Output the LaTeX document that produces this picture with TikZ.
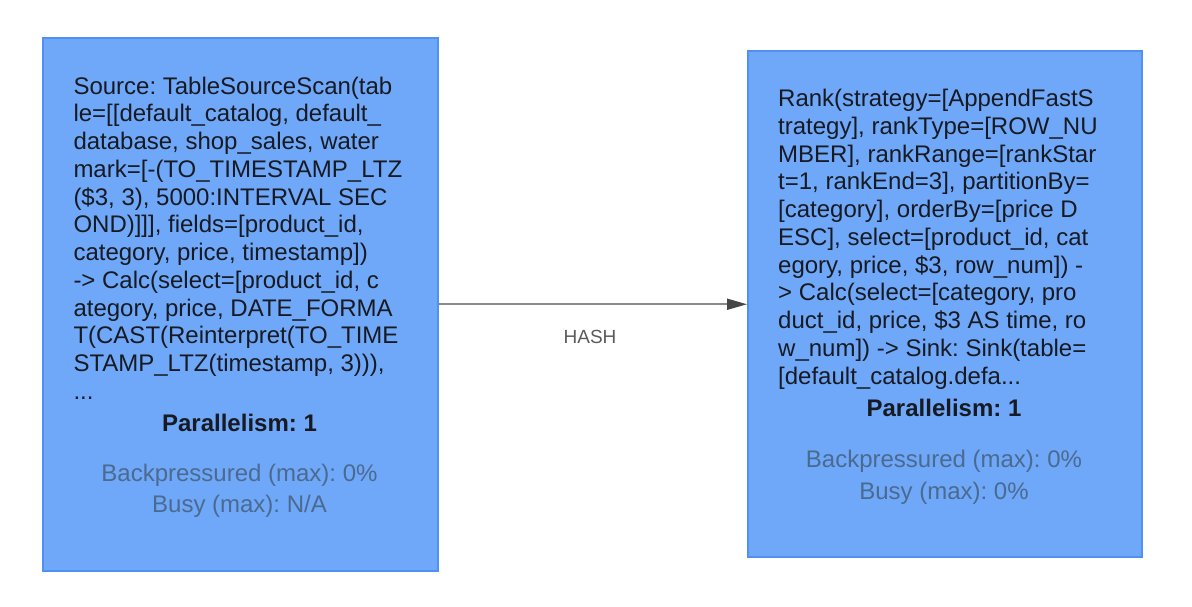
\documentclass[tikz,border=0pt]{standalone}
\usepackage{fontspec}
\setmainfont{Liberation Sans}
\usetikzlibrary{arrows.meta}
\definecolor{opfill}{HTML}{6FA8F8}
\definecolor{opborder}{HTML}{5090F4}
\definecolor{optext}{HTML}{171A22}
\definecolor{statgray}{HTML}{4B6A90}
\definecolor{edgegray}{HTML}{8A8A8A}
\definecolor{tipgray}{HTML}{464646}
\definecolor{hashgray}{HTML}{5A5A5A}
\frenchspacing
\begin{document}
\begin{tikzpicture}[x=1pt,y=-1pt,
  opbox/.style={draw=opborder, fill=opfill, line width=1.5pt, anchor=north west, inner sep=0pt},
  optxt/.style={anchor=north west, inner sep=0pt, align=left, text=optext, font=\fontsize{24}{27.75}\selectfont},
  parline/.style={anchor=base, inner sep=0pt, text=optext, font=\fontsize{24}{28}\selectfont\bfseries},
  statline/.style={anchor=base, inner sep=0pt, text=statgray, font=\fontsize{24}{28}\selectfont},
  flow/.style={draw=edgegray, line width=1.8pt, -{Triangle[length=20pt,width=11pt,color=tipgray]}}]
\useasboundingbox (0,0) rectangle (1192,606);
%\draw[help lines] (0,0) grid (1192,606);
\node (src) [opbox, minimum width=395pt, minimum height=533pt] at (42,37) {};
\node (snk) [opbox, minimum width=394pt, minimum height=506pt] at (747,50) {};
\node (srctxt) [optxt] at (73.3,76.6) {Source: TableSourceScan(tab\\
le=[[default\_catalog, default\_\\
database, shop\_sales, water\\
mark=[-(TO\_TIMESTAMP\_LTZ\\
(\$3, 3), 5000:INTERVAL SEC\\
OND)]]], fields=[product\_id,\\
category, price, timestamp])\\
-> Calc(select=[product\_id, c\\
ategory, price, DATE\_FORMA\\
T(CAST(Reinterpret(TO\_TIME\\
STAMP\_LTZ(timestamp, 3))),\\
...};
\node (snktxt) [optxt] at (778,89.1) {Rank(strategy=[AppendFastS\\
trategy], rankType=[ROW\_NU\\
MBER], rankRange=[rankStar\\
t=1, rankEnd=3], partitionBy=\\
{}[category], orderBy=[price D\\
ESC], select=[product\_id, cat\\
egory, price, \$3, row\_num]) -\\
> Calc(select=[category, pro\\
duct\_id, price, \$3 AS time, ro\\
w\_num]) -> Sink: Sink(table=\\
{}[default\_catalog.defa...};
\node (srcpar) [parline] at (239.5,431) {Parallelism: 1};
\node (srcbp) [statline] at (239.5,481.7) {Backpressured (max): 0\%};
\node (srcbusy) [statline] at (239.5,512) {Busy (max): N/A};
\node (snkpar) [parline] at (944,416.7) {Parallelism: 1};
\node (snkbp) [statline] at (944,467.7) {Backpressured (max): 0\%};
\node (snkbusy) [statline] at (944,499.3) {Busy (max): 0\%};
\path[flow] (src.east) -- (src.east -| snk.west);
\node (hash) [text=hashgray, font=\fontsize{19}{22}\selectfont, inner sep=0pt] at (590,337) {HASH};
\end{tikzpicture}
\end{document}
